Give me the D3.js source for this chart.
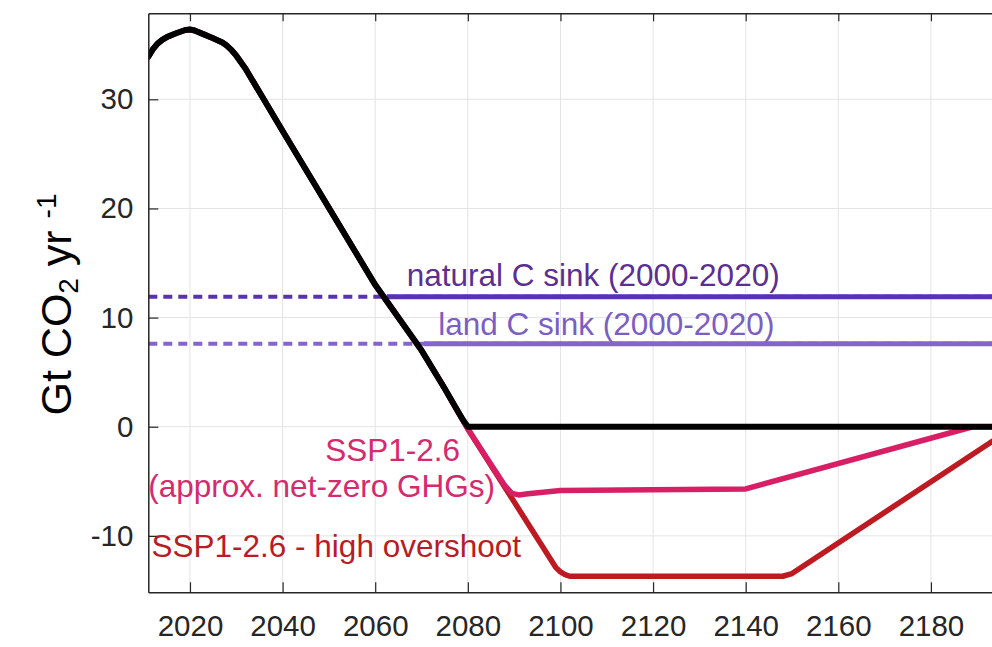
<!DOCTYPE html>
<html>
<head>
<meta charset="utf-8">
<script src="https://cdn.jsdelivr.net/npm/d3@7/dist/d3.min.js"></script>
<style>
  body { margin: 0; background: #fff; }
  svg { display: block; font-family: "Liberation Sans", Arial, Helvetica, sans-serif; }
</style>
</head>
<body>
<div id="chart"></div>
<script>
// emissions path shared by all scenarios until ~2075 (Gt CO2 / yr)
var sharedYears = [2011, 2012, 2013, 2014, 2015, 2017, 2019, 2020, 2021, 2023, 2025, 2027, 2028, 2029, 2030, 2031, 2032, 2040, 2050, 2060, 2065, 2070, 2075];
var sharedVals  = [33.9, 34.6, 35.1, 35.45, 35.7, 36.05, 36.35, 36.4, 36.3, 35.95, 35.6, 35.2, 34.9, 34.5, 34.0, 33.4, 32.8, 27.1, 20.05, 13.0, 10.0, 7.0, 3.5];

// black: stops at zero
var netZeroYears = [2078, 2079, 2080, 2200];
var netZeroVals  = [1.3, 0.6, 0, 0];

// SSP1-2.6 (approx. net-zero GHGs)
var sspYears = [2080, 2088, 2089.5, 2091, 2093, 2100, 2140, 2189, 2200];
var sspVals  = [-0.2, -5.4, -6.1, -6.25, -6.15, -5.85, -5.7, 0, 0];

// SSP1-2.6 - high overshoot
var overshootYears = [2080, 2099, 2100, 2101, 2102, 2148, 2150, 2198, 2200];
var overshootVals  = [-0.2, -12.9, -13.3, -13.55, -13.7, -13.7, -13.45, 0, 0];

// carbon sinks, 2000-2020 mean
var naturalSink = 11.9, naturalSinkFrom = 2062.5;
var landSink = 7.6, landSinkFrom = 2070.5;

var xTicks = [2020, 2040, 2060, 2080, 2100, 2120, 2140, 2160, 2180];
var yTicks = [-10, 0, 10, 20, 30];

var svgWidth = 992, svgHeight = 647;
var plotLeft = 148.3, plotTop = 13.3, plotBottom = 592.3;

var svg = d3.select("#chart").append("svg")
    .attr("width", svgWidth)
    .attr("height", svgHeight);

var x = d3.scaleLinear().domain([2011, 2200]).range([plotLeft, plotLeft + 189 * 4.631]);
var y = d3.scaleLinear().domain([-15.17, 37.88]).range([plotBottom, plotTop]);
var plotRight = x(2200);

svg.append("defs").append("clipPath").attr("id", "plot")
    .append("rect")
    .attr("x", plotLeft).attr("y", plotTop)
    .attr("width", plotRight - plotLeft).attr("height", plotBottom - plotTop);

// grid
var grid = svg.append("g").attr("stroke", "#e3e3e3").attr("stroke-width", 1);
grid.selectAll(".gx").data(xTicks).enter().append("line")
    .attr("x1", d => x(d)).attr("x2", d => x(d))
    .attr("y1", plotTop).attr("y2", plotBottom);
grid.selectAll(".gy").data(yTicks).enter().append("line")
    .attr("x1", plotLeft).attr("x2", plotRight)
    .attr("y1", d => y(d)).attr("y2", d => y(d));

var plot = svg.append("g").attr("clip-path", "url(#plot)");

function zip(xs, ys) {
    return xs.map(function (d, i) { return [d, ys[i]]; });
}
var line = d3.line().x(d => x(d[0])).y(d => y(d[1]));

// sink lines: dashed across, solid after the crossing
function sink(value, from, color) {
    plot.append("line")
        .attr("x1", x(2011)).attr("x2", plotRight)
        .attr("y1", y(value)).attr("y2", y(value))
        .attr("stroke", color).attr("stroke-width", 4)
        .attr("stroke-dasharray", "9,6");
    plot.append("line")
        .attr("x1", x(from)).attr("x2", plotRight)
        .attr("y1", y(value)).attr("y2", y(value))
        .attr("stroke", color).attr("stroke-width", 5);
}
sink(naturalSink, naturalSinkFrom, "#5733b3");
sink(landSink, landSinkFrom, "#8565cc");

var series = [
    { pts: zip(sharedYears, sharedVals).concat(zip(overshootYears, overshootVals)), color: "#bd1a22", w: 5.5 },
    { pts: zip(sharedYears, sharedVals).concat(zip(sspYears, sspVals)), color: "#d81f66", w: 5.5 },
    { pts: zip(sharedYears, sharedVals).concat(zip(netZeroYears, netZeroVals)), color: "#000000", w: 6 }
];

plot.selectAll(".series").data(series).enter().append("path")
    .attr("d", d => line(d.pts))
    .attr("fill", "none")
    .attr("stroke", d => d.color)
    .attr("stroke-width", d => d.w)
    .attr("stroke-linejoin", "round")
    .attr("stroke-linecap", "round");

// axes (ticks point inward)
var axisColor = "#262626";
svg.append("g")
    .attr("transform", `translate(0, ${plotBottom})`)
    .call(d3.axisBottom(x).tickValues(xTicks).tickFormat(d => String(d))
        .tickSize(-10).tickSizeOuter(0).tickPadding(23));
svg.append("g")
    .attr("transform", `translate(0, ${plotTop})`)
    .call(d3.axisTop(x).tickValues(xTicks).tickFormat("")
        .tickSize(-8).tickSizeOuter(0));
svg.append("g")
    .attr("transform", `translate(${plotLeft}, 0)`)
    .call(d3.axisLeft(y).tickValues(yTicks).tickFormat(d => String(d))
        .tickSize(-10).tickSizeOuter(0).tickPadding(15));

svg.selectAll(".domain").attr("stroke", axisColor).attr("stroke-width", 1.5);
svg.selectAll(".tick line").attr("stroke", axisColor).attr("stroke-width", 1.2);
svg.selectAll(".tick text")
    .attr("fill", axisColor)
    .attr("font-size", "29.5px")
    .attr("font-family", "'Liberation Sans', Arial, sans-serif");

// y axis label
var ylab = svg.append("text")
    .attr("transform", "translate(71, 304.5) rotate(-90)")
    .attr("text-anchor", "middle")
    .attr("font-size", "43px")
    .attr("fill", "#000");
ylab.append("tspan").text("Gt CO");
ylab.append("tspan").attr("font-size", "28px").attr("dy", 7).text("2");
ylab.append("tspan").attr("dy", -7).text(" yr ");
ylab.append("tspan").attr("font-size", "28px").attr("dy", -15).text("-1");

// annotations
var notes = [
    { text: "natural C sink (2000-2020)", yr: 2066.8, v: 12.94, color: "#5b2f92" },
    { text: "land C sink (2000-2020)", yr: 2073.6, v: 8.4, color: "#7b5ec4" },
    { text: "SSP1-2.6", yr: 2049.2, v: -3.14, color: "#d62a6e" },
    { text: "(approx. net-zero GHGs)", yr: 2011, v: -6.41, color: "#d62a6e" },
    { text: "SSP1-2.6 - high overshoot", yr: 2011.7, v: -11.91, color: "#b81c24" }
];
svg.selectAll(".note").data(notes).enter().append("text")
    .attr("x", d => x(d.yr))
    .attr("y", d => y(d.v))
    .attr("font-size", "31.5px")
    .attr("fill", d => d.color)
    .text(d => d.text);
</script>
</body>
</html>
